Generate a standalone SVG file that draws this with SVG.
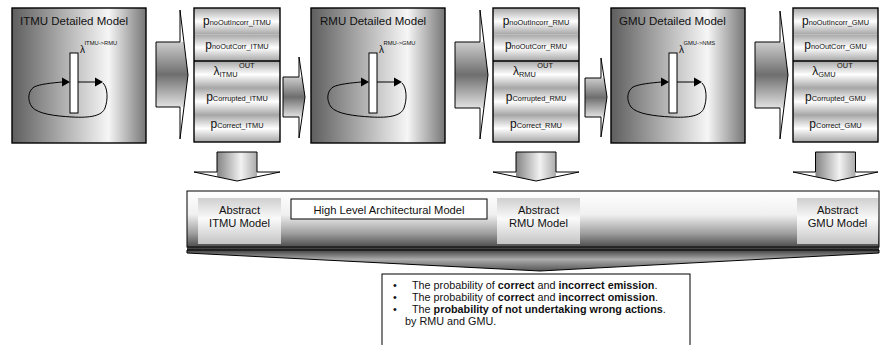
<svg xmlns="http://www.w3.org/2000/svg" xmlns:xlink="http://www.w3.org/1999/xlink" width="882" height="345" viewBox="0 0 882 345">
  <style>
    text { font-family: "Liberation Sans", Arial, Helvetica, sans-serif; fill: #111; }
    .title { font-size: 11.5px; }
    .big { font-size: 12px; }
    .sub { font-size: 7.4px; }
    .lam { font-size: 10px; }
    .sup { font-size: 5.8px; }
    .lbl { font-size: 11.2px; }
    .note { font-size: 10.8px; }
    .b { font-weight: bold; }
    .edge { fill: none; stroke: #000; stroke-width: 1.4; }
    .thin { fill: none; stroke: #000; stroke-width: 1; }
    .row { fill: url(#rowBand); }
    .model { fill: url(#modelFill); stroke: #000; stroke-width: 1.4; }
    .hbody { fill: url(#hArrowFill); }
    .vbody { fill: url(#vArrowFill); }
    .head { fill: #fff; }
    .abs { fill: url(#absFill); }
  </style>
  <defs>
    <linearGradient id="modelFill" x1="0" y1="0" x2="1" y2="0">
      <stop offset="0" stop-color="#5e5e5e"/>
      <stop offset="0.72" stop-color="#f6f6f6"/>
      <stop offset="1" stop-color="#767676"/>
    </linearGradient>
    <linearGradient id="rowBand" x1="0" y1="0" x2="0" y2="1">
      <stop offset="0" stop-color="#a6a6a6"/>
      <stop offset="0.5" stop-color="#ffffff"/>
      <stop offset="1" stop-color="#a6a6a6"/>
    </linearGradient>
    <linearGradient id="hArrowFill" x1="0" y1="0" x2="0" y2="1">
      <stop offset="0" stop-color="#cdcdcd"/>
      <stop offset="0.5" stop-color="#6e6e6e"/>
      <stop offset="1" stop-color="#e2e2e2"/>
    </linearGradient>
    <linearGradient id="vArrowFill" x1="0" y1="0" x2="1" y2="0">
      <stop offset="0" stop-color="#848484"/>
      <stop offset="0.6" stop-color="#f2f2f2"/>
      <stop offset="1" stop-color="#aaaaaa"/>
    </linearGradient>
    <linearGradient id="bandFill" x1="0" y1="0" x2="0" y2="1">
      <stop offset="0" stop-color="#ffffff"/>
      <stop offset="0.4" stop-color="#f0f0f0"/>
      <stop offset="0.72" stop-color="#9e9e9e"/>
      <stop offset="1" stop-color="#3a3a3a"/>
    </linearGradient>
    <linearGradient id="wedgeFill" x1="0" y1="0" x2="0" y2="1">
      <stop offset="0" stop-color="#404040"/>
      <stop offset="0.45" stop-color="#ababab"/>
      <stop offset="1" stop-color="#555555"/>
    </linearGradient>
    <linearGradient id="absFill" x1="0" y1="0" x2="0" y2="1">
      <stop offset="0" stop-color="#cfcfcf"/>
      <stop offset="0.45" stop-color="#fafafa"/>
      <stop offset="1" stop-color="#c4c4c4"/>
    </linearGradient>

    <!-- small net sketch: transition bar, input/output arcs and feedback loop -->
    <g id="net">
      <path class="thin" stroke-width="1.2" d="M103,83 C108,88 108,100 105,108 C102,116 90,118 72,117 C55,116 38,114 32,107 C27,100 28,91 34,87 C40,84 52,83 62,82"/>
      <line class="thin" x1="78" y1="82" x2="95" y2="82"/>
      <polygon points="62,77.5 70,82 62,86.5" fill="#000"/>
      <polygon points="95,77.5 103,82 95,86.5" fill="#000"/>
      <rect x="70" y="53" width="8" height="60" fill="#fff" stroke="#000" stroke-width="1"/>
    </g>
  </defs>

  <!-- detailed models -->
  <g id="itmu-detailed">
    <rect class="model" x="12" y="8" width="134" height="135"/>
    <text class="title" x="20" y="25">ITMU Detailed Model</text>
    <use xlink:href="#net"/>
    <text class="lam" x="80" y="53">λ</text>
    <text class="sup" x="84.5" y="45">ITMU-&gt;RMU</text>
  </g>
  <g id="rmu-detailed">
    <rect class="model" x="311" y="8" width="134" height="135"/>
    <text class="title" x="320" y="25">RMU Detailed Model</text>
    <use xlink:href="#net" transform="translate(299,0)"/>
    <text class="lam" x="379" y="53">λ</text>
    <text class="sup" x="383.5" y="45">RMU-&gt;GMU</text>
  </g>
  <g id="gmu-detailed">
    <rect class="model" x="611" y="8" width="134" height="135"/>
    <text class="title" x="619" y="25">GMU Detailed Model</text>
    <use xlink:href="#net" transform="translate(599,0)"/>
    <text class="lam" x="679" y="53">λ</text>
    <text class="sup" x="683.5" y="45">GMU-&gt;NMS</text>
  </g>

  <!-- output parameter stacks -->
  <g id="itmu-params">
    <rect class="row" x="194" y="8" width="86" height="26.5"/>
    <rect class="row" x="194" y="34.5" width="86" height="26.5"/>
    <rect class="row" x="194" y="61" width="86" height="27"/>
    <rect class="row" x="194" y="88" width="86" height="27"/>
    <rect class="row" x="194" y="115" width="86" height="27"/>
    <rect class="edge" x="194" y="8" width="86" height="134"/>
    <line class="edge" x1="194" y1="61" x2="280" y2="61"/>
    <text x="237" y="25" text-anchor="middle"><tspan class="big">p</tspan><tspan class="sub">noOutIncorr_ITMU</tspan></text>
    <text x="237" y="49" text-anchor="middle"><tspan class="big">p</tspan><tspan class="sub">noOutCorr_ITMU</tspan></text>
    <text x="234" y="75" text-anchor="middle"><tspan class="big">λ</tspan><tspan class="sub" dy="2">ITMU</tspan><tspan class="sub" dx="1.5" dy="-9">OUT</tspan></text>
    <text x="237" y="101" text-anchor="middle"><tspan class="big">p</tspan><tspan class="sub">Corrupted_ITMU</tspan></text>
    <text x="237" y="128" text-anchor="middle"><tspan class="big">p</tspan><tspan class="sub">Correct_ITMU</tspan></text>
  </g>
  <g id="rmu-params">
    <rect class="row" x="493" y="8" width="86" height="26.5"/>
    <rect class="row" x="493" y="34.5" width="86" height="26.5"/>
    <rect class="row" x="493" y="61" width="86" height="27"/>
    <rect class="row" x="493" y="88" width="86" height="27"/>
    <rect class="row" x="493" y="115" width="86" height="27"/>
    <rect class="edge" x="493" y="8" width="86" height="134"/>
    <line class="edge" x1="493" y1="61" x2="579" y2="61"/>
    <text x="536" y="25" text-anchor="middle"><tspan class="big">p</tspan><tspan class="sub">noOutIncorr_RMU</tspan></text>
    <text x="536" y="49" text-anchor="middle"><tspan class="big">p</tspan><tspan class="sub">noOutCorr_RMU</tspan></text>
    <text x="533" y="75" text-anchor="middle"><tspan class="big">λ</tspan><tspan class="sub" dy="2">RMU</tspan><tspan class="sub" dx="1.5" dy="-9">OUT</tspan></text>
    <text x="536" y="101" text-anchor="middle"><tspan class="big">p</tspan><tspan class="sub">Corrupted_RMU</tspan></text>
    <text x="536" y="128" text-anchor="middle"><tspan class="big">p</tspan><tspan class="sub">Correct_RMU</tspan></text>
  </g>
  <g id="gmu-params">
    <rect class="row" x="793" y="8" width="85" height="26.5"/>
    <rect class="row" x="793" y="34.5" width="85" height="26.5"/>
    <rect class="row" x="793" y="61" width="85" height="27"/>
    <rect class="row" x="793" y="88" width="85" height="27"/>
    <rect class="row" x="793" y="115" width="85" height="27"/>
    <rect class="edge" x="793" y="8" width="85" height="134"/>
    <line class="edge" x1="793" y1="61" x2="878" y2="61"/>
    <text x="835.5" y="25" text-anchor="middle"><tspan class="big">p</tspan><tspan class="sub">noOutIncorr_GMU</tspan></text>
    <text x="835.5" y="49" text-anchor="middle"><tspan class="big">p</tspan><tspan class="sub">noOutCorr_GMU</tspan></text>
    <text x="832.5" y="75" text-anchor="middle"><tspan class="big">λ</tspan><tspan class="sub" dy="2">GMU</tspan><tspan class="sub" dx="1.5" dy="-9">OUT</tspan></text>
    <text x="835.5" y="101" text-anchor="middle"><tspan class="big">p</tspan><tspan class="sub">Corrupted_GMU</tspan></text>
    <text x="835.5" y="128" text-anchor="middle"><tspan class="big">p</tspan><tspan class="sub">Correct_GMU</tspan></text>
  </g>

  <!-- block arrows between the stages -->
  <g id="connectors">
    <!-- ITMU model -> ITMU parameters -->
    <polygon class="head" points="156,42 180,42 180,10 188,75 180,139 180,107 156,107"/>
    <polygon class="hbody" points="156,42 183.9,42 188,75 184,107 156,107"/>
    <polygon class="thin" points="156,42 180,42 180,10 188,75 180,139 180,107 156,107"/>
    <!-- ITMU parameters -> RMU model -->
    <polygon class="head" points="283,77 299,77 299,57 305,97 299,138 299,117 283,117"/>
    <polygon class="hbody" points="283,77 302,77 305,97 302,117 283,117"/>
    <polygon class="thin" points="283,77 299,77 299,57 305,97 299,138 299,117 283,117"/>
    <!-- RMU model -> RMU parameters -->
    <polygon class="head" points="455,42 480,42 480,10 488,75 480,139 480,108 455,108"/>
    <polygon class="hbody" points="455,42 483.9,42 488,75 483.8,108 455,108"/>
    <polygon class="thin" points="455,42 480,42 480,10 488,75 480,139 480,108 455,108"/>
    <!-- RMU parameters -> GMU model -->
    <polygon class="head" points="585,78 601,78 601,58 607,97 601,137 601,117 585,117"/>
    <polygon class="hbody" points="585,78 604,78 607,97 604,117 585,117"/>
    <polygon class="thin" points="585,78 601,78 601,58 607,97 601,137 601,117 585,117"/>
    <!-- GMU model -> GMU parameters -->
    <polygon class="head" points="755,42 780,42 780,11 788,75 780,139 780,108 755,108"/>
    <polygon class="hbody" points="755,42 783.9,42 788,75 783.8,108 755,108"/>
    <polygon class="thin" points="755,42 780,42 780,11 788,75 780,139 780,108 755,108"/>

    <!-- parameters -> abstract models -->
    <polygon class="head" points="217,152 257,152 257,172 280,172 237,181 194,172 217,172"/>
    <polygon class="vbody" points="217,152 257,152 257,176.8 237,181 217,176.8"/>
    <polygon class="thin" points="217,152 257,152 257,172 280,172 237,181 194,172 217,172"/>

    <polygon class="head" points="516,152 556,152 556,172 579,172 536,181 493,172 516,172"/>
    <polygon class="vbody" points="516,152 556,152 556,176.8 536,181 516,176.8"/>
    <polygon class="thin" points="516,152 556,152 556,172 579,172 536,181 493,172 516,172"/>

    <polygon class="head" points="815.5,152 855.5,152 855.5,172 878,172 835.5,181 793,172 815.5,172"/>
    <polygon class="vbody" points="815.5,152 855.5,152 855.5,176.8 835.5,181 815.5,176.8"/>
    <polygon class="thin" points="815.5,152 855.5,152 855.5,172 878,172 835.5,181 793,172 815.5,172"/>
  </g>

  <!-- high level architectural model band -->
  <g id="architecture">
    <rect x="187" y="191" width="692" height="59" fill="url(#bandFill)"/>
    <rect class="thin" x="187" y="191" width="692" height="56"/>
    <polygon points="187,250 879,250 879,253 540,271 187,253" fill="url(#wedgeFill)" stroke="#000" stroke-width="1"/>
    <g id="abstract-itmu">
      <rect class="abs" x="198" y="198" width="83" height="46"/>
      <text class="lbl" x="239.5" y="214" text-anchor="middle">Abstract</text>
      <text class="lbl" x="239.5" y="226.5" text-anchor="middle">ITMU Model</text>
    </g>
    <g id="hl-model">
      <rect x="291" y="199" width="196" height="20" fill="#fff" stroke="#000" stroke-width="1"/>
      <text class="lbl" x="389" y="213.5" text-anchor="middle">High Level Architectural Model</text>
    </g>
    <g id="abstract-rmu">
      <rect class="abs" x="497" y="198" width="83" height="46"/>
      <text class="lbl" x="538.5" y="214" text-anchor="middle">Abstract</text>
      <text class="lbl" x="538.5" y="226.5" text-anchor="middle">RMU Model</text>
    </g>
    <g id="abstract-gmu">
      <rect class="abs" x="797" y="198" width="81" height="46"/>
      <text class="lbl" x="837.5" y="214" text-anchor="middle">Abstract</text>
      <text class="lbl" x="837.5" y="226.5" text-anchor="middle">GMU Model</text>
    </g>
  </g>

  <!-- summary of derived probabilities -->
  <g id="summary">
    <rect x="382" y="274" width="308" height="80" fill="#fff" stroke="#000" stroke-width="1"/>
    <text class="note" x="393" y="289">•</text>
    <text class="note" x="412" y="289">The probability of <tspan class="b">correct</tspan> and <tspan class="b">incorrect emission</tspan>.</text>
    <text class="note" x="393" y="301">•</text>
    <text class="note" x="412" y="301">The probability of <tspan class="b">correct</tspan> and <tspan class="b">incorrect omission</tspan>.</text>
    <text class="note" x="393" y="313">•</text>
    <text class="note" x="412" y="313">The <tspan class="b">probability of not undertaking wrong actions</tspan>.</text>
    <text class="note" x="405" y="325">by RMU and GMU.</text>
  </g>
</svg>
